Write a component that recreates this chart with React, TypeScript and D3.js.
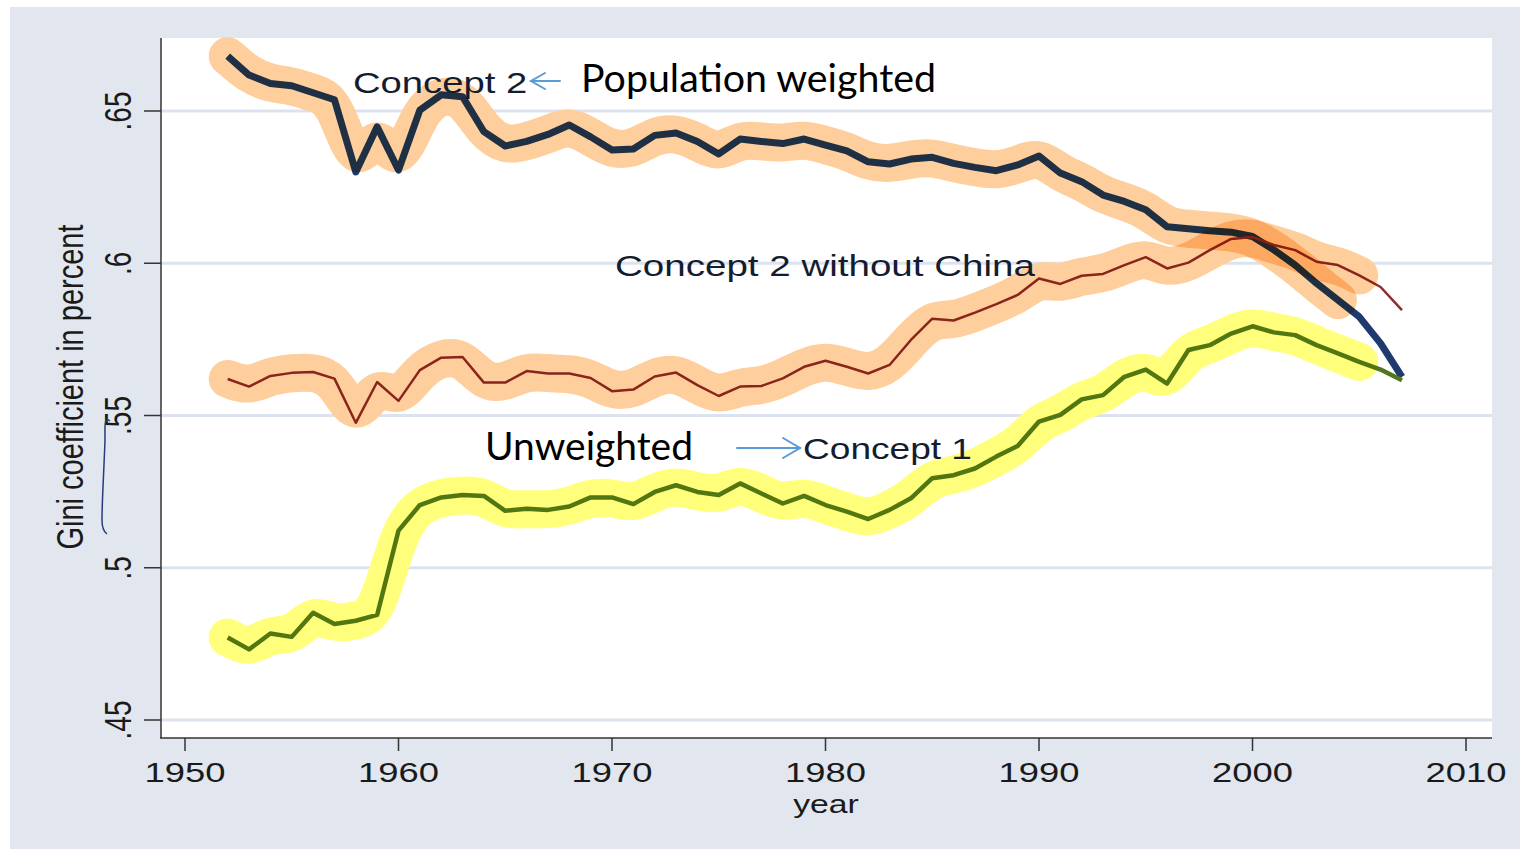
import React from "react";
import * as d3 from "d3";

const years: number[] = d3.range(1952, 2008);

const concept2: number[] = [
  0.668, 0.6618, 0.659, 0.6583, 0.656, 0.6537, 0.63, 0.6448, 0.6306, 0.6503,
  0.6553, 0.6547, 0.6432, 0.6385, 0.64, 0.6423, 0.6454, 0.6415, 0.6372, 0.6375,
  0.642, 0.6428, 0.64, 0.6359, 0.6408, 0.64, 0.6393, 0.6408, 0.6388, 0.6369,
  0.6333, 0.6326, 0.6342, 0.6348, 0.6328, 0.6315, 0.6304, 0.6323, 0.6352, 0.6296,
  0.6268, 0.6224, 0.6203, 0.6176, 0.612, 0.6113, 0.6107, 0.6102, 0.6088, 0.6044,
  0.5994, 0.5934, 0.5879, 0.5824, 0.5737, 0.5627,
];

const withoutChina: number[] = [
  0.562, 0.5595, 0.563, 0.564, 0.5643, 0.5621, 0.5476, 0.561, 0.5548, 0.5649,
  0.569, 0.5692, 0.5608, 0.5608, 0.5646, 0.5638, 0.5638, 0.5623, 0.558, 0.5585,
  0.5628, 0.5641, 0.56, 0.5564, 0.5595, 0.5597, 0.5622, 0.566, 0.568, 0.566,
  0.5638, 0.5666, 0.5748, 0.5818, 0.5812, 0.5838, 0.5866, 0.5896, 0.595, 0.5932,
  0.5959, 0.5965, 0.5994, 0.602, 0.5983, 0.6002, 0.6043, 0.608, 0.6086, 0.606,
  0.6043, 0.6005, 0.5994, 0.596, 0.5922, 0.5846,
];

const concept1: number[] = [
  0.4771, 0.4732, 0.4784, 0.4773, 0.4852, 0.4815, 0.4826, 0.4845, 0.5122, 0.5206,
  0.5231, 0.5239, 0.5236, 0.5187, 0.5194, 0.519, 0.5201, 0.5231, 0.5231, 0.5209,
  0.5249, 0.5271, 0.5249, 0.5239, 0.5277, 0.5244, 0.5211, 0.5236, 0.5206, 0.5184,
  0.516, 0.519, 0.5228, 0.5294, 0.5304, 0.5326, 0.5365, 0.54, 0.548, 0.5502,
  0.5553, 0.5567, 0.5627, 0.5651, 0.5605, 0.5715, 0.5731, 0.5769, 0.5793, 0.5773,
  0.5764, 0.5731, 0.5704, 0.5676, 0.5651, 0.5616,
];

const xTicks: number[] = [1950, 1960, 1970, 1980, 1990, 2000, 2010];
const yTicks: number[] = [0.45, 0.5, 0.55, 0.6, 0.65];
const yTickLabels: string[] = [".45", ".5", ".55", ".6", ".65"];

const x = d3.scaleLinear().domain([1950, 2010]).range([185, 1466]);
const y = d3.scaleLinear().domain([0.45, 0.65]).range([720, 111]);

type P = [number, number];
const pts = (vals: number[], endYear = 9999): P[] =>
  years.map((yr, i) => [yr, vals[i]] as P).filter((p) => p[0] <= endYear);

const line = d3
  .line<P>()
  .x((d) => x(d[0]))
  .y((d) => y(d[1]));
const smooth = d3
  .line<P>()
  .x((d) => x(d[0]))
  .y((d) => y(d[1]))
  .curve(d3.curveBasis);

const SANS = "'Liberation Sans', Arial, sans-serif";
const SX = 1.3;

export default function App() {
  const hl = (vals: number[], end: number, color: string) => (
    <path
      d={smooth(pts(vals, end)) || ""}
      fill="none"
      stroke={color}
      strokeWidth={38}
      strokeLinecap="round"
      strokeLinejoin="round"
      style={{ mixBlendMode: "multiply" }}
    />
  );
  return (
    <svg
      width={1520}
      height={849}
      style={{ position: "absolute", left: 0, top: 0, display: "block" }}
    >
      <rect x={0} y={0} width={1520} height={849} fill="#ffffff" />
      <rect x={10} y={7} width={1510} height={842} fill="#e1e6ef" />
      <rect x={161} y={38} width={1331} height={700} fill="#ffffff" />
      {yTicks.map((t) => (
        <line
          key={"g" + t}
          x1={161}
          x2={1492}
          y1={y(t)}
          y2={y(t)}
          stroke="#dde3ee"
          strokeWidth={3}
        />
      ))}
      <g style={{ isolation: "isolate" }}>
        <path d={line(pts(concept2)) || ""} fill="none" stroke="#1f3a6e" strokeWidth={7} strokeLinejoin="round" />
        <path d={line(pts(withoutChina)) || ""} fill="none" stroke="#8c2c2c" strokeWidth={2.5} strokeLinejoin="round" />
        <path d={line(pts(concept1)) || ""} fill="none" stroke="#527620" strokeWidth={4.5} strokeLinejoin="round" />
        {hl(concept2, 2004, "#fecf9c")}
        {hl(withoutChina, 2005, "#fecf9c")}
        {hl(concept1, 2005, "#ffff7c")}
      </g>
      {/* axes */}
      <line x1={161} x2={161} y1={38} y2={738} stroke="#333" strokeWidth={1.5} />
      <line x1={160} x2={1492} y1={738} y2={738} stroke="#333" strokeWidth={1.5} />
      {yTicks.map((t, i) => (
        <g key={"yt" + t}>
          <line x1={144} x2={161} y1={y(t)} y2={y(t)} stroke="#333" strokeWidth={1.5} />
          <text
            transform={`translate(131,${y(t)}) scale(${SX},1) rotate(-90)`}
            textAnchor="middle"
            fontFamily={SANS}
            fontSize={28}
            fill="#1a1a1a"
          >
            {yTickLabels[i]}
          </text>
        </g>
      ))}
      {xTicks.map((t) => (
        <g key={"xt" + t}>
          <line x1={x(t)} x2={x(t)} y1={738} y2={751} stroke="#333" strokeWidth={1.5} />
          <text
            transform={`translate(${x(t)},782) scale(${SX},1)`}
            textAnchor="middle"
            fontFamily={SANS}
            fontSize={28}
            fill="#1a1a1a"
          >
            {t}
          </text>
        </g>
      ))}
      <text
        transform={`translate(826,813) scale(${SX},1)`}
        textAnchor="middle"
        fontFamily={SANS}
        fontSize={26}
        fill="#1a1a1a"
      >
        year
      </text>
      <text
        transform={`translate(83,387) scale(${SX},1) rotate(-90)`}
        textAnchor="middle"
        fontFamily={SANS}
        fontSize={29}
        fill="#1a1a1a"
      >
        Gini coefficient in percent
      </text>
      {/* hand-drawn mark near y axis */}
      <path
        d="M110,421 C104,416 105,426 105,440 C104,470 102,500 102,520 C102,528 104,532 107,534"
        fill="none"
        stroke="#23407a"
        strokeWidth={1.5}
      />
      {/* annotations */}
      <text transform={`translate(353,93) scale(${SX},1)`} fontFamily={SANS} fontSize={29} fill="#141c30" textLength={134} lengthAdjust="spacingAndGlyphs">
        Concept 2
      </text>
      <text transform={`translate(615,276) scale(${SX},1)`} fontFamily={SANS} fontSize={29} fill="#141c30" textLength={323} lengthAdjust="spacingAndGlyphs">
        Concept 2 without China
      </text>
      <text transform={`translate(803,459) scale(${SX},1)`} fontFamily={SANS} fontSize={29} fill="#141c30" textLength={130} lengthAdjust="spacingAndGlyphs">
        Concept 1
      </text>
      <text x={581} y={92} fontFamily="Lato, 'Open Sans', sans-serif" fontSize={38} textLength={355} lengthAdjust="spacingAndGlyphs" fill="#000">
        Population weighted
      </text>
      <text x={485} y={460} fontFamily="Lato, 'Open Sans', sans-serif" fontSize={38} textLength={208} lengthAdjust="spacingAndGlyphs" fill="#000">
        Unweighted
      </text>
      {/* arrows */}
      <g stroke="#5b9bd5" strokeWidth={2} fill="none" strokeLinecap="round">
        <line x1={560} y1={81} x2={531} y2={81} />
        <polyline points="545,73 531,81 545,89" />
        <line x1={737} y1={448} x2={800} y2={448} />
        <polyline points="783,438 800,448 783,458" />
      </g>
    </svg>
  );
}
